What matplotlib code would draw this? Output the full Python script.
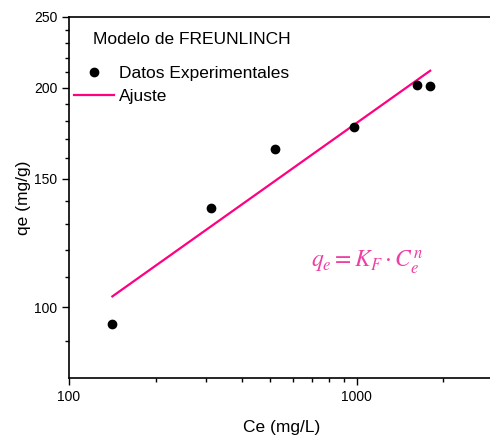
import numpy as np
import matplotlib.pyplot as plt
from matplotlib.ticker import FixedLocator, NullFormatter, FixedFormatter

plt.rcParams['font.family'] = ['Liberation Sans', 'DejaVu Sans']
plt.rcParams['mathtext.fontset'] = 'stix'

ce = [141, 312, 520, 976, 1620, 1798]
qe = [94.9, 136.6, 164.6, 176.8, 201.6, 201.2]

# Freundlich fit line endpoints
fit_ce = [141.5, 1800]
fit_qe = [103.5, 211.0]

x_major = [100, 1000]
x_minor = [200, 300, 400, 500, 600, 700, 800, 900, 2000]
y_major = [100, 150, 200, 250]
y_minor = [90, 110, 120, 130, 140, 160, 170, 180, 190, 210, 220, 230, 240]

fig = plt.figure(figsize=(4.9, 4.38), dpi=100)
ax = fig.add_axes([69 / 490, 1 - 378 / 438, 425 / 490, 361 / 438])

ax.plot(ce, qe, 'o', color='black', markersize=6, label='Datos Experimentales', zorder=3)
ax.plot(fit_ce, fit_qe, '-', color='#ff0080', linewidth=1.6, label='Ajuste')

ax.set_xscale('log')
ax.set_yscale('log')
ax.set_xlim(100, 3000)
ax.set_ylim(80, 250)

ax.xaxis.set_major_locator(FixedLocator(x_major))
ax.xaxis.set_major_formatter(FixedFormatter([str(v) for v in x_major]))
ax.xaxis.set_minor_locator(FixedLocator(x_minor))
ax.xaxis.set_minor_formatter(NullFormatter())
ax.yaxis.set_major_locator(FixedLocator(y_major))
ax.yaxis.set_major_formatter(FixedFormatter([str(v) for v in y_major]))
ax.yaxis.set_minor_locator(FixedLocator(y_minor))
ax.yaxis.set_minor_formatter(NullFormatter())

ax.tick_params(which='major', length=5, width=1, labelsize=10, direction='out')
ax.tick_params(which='minor', length=3, width=1, direction='out')
ax.spines['right'].set_visible(False)
for s in ['left', 'bottom', 'top']:
    ax.spines[s].set_linewidth(1.2)

ax.set_xlabel('Ce (mg/L)', fontsize=12.5, labelpad=12)
ax.set_ylabel('qe (mg/g)', fontsize=12.5, labelpad=2)

fig.text(93 / 490, 1 - 40 / 438, 'Modelo de FREUNLINCH', fontsize=12.5, va='center', ha='left')
ax.legend(loc='upper left', bbox_to_anchor=(74 / 490, 1 - 66 / 438), bbox_transform=fig.transFigure,
          frameon=False, fontsize=12.5, handlelength=2.3, handletextpad=0.3,
          labelspacing=0.45, borderpad=0, borderaxespad=0)

fig.text(367 / 490, 1 - 262 / 438, r'$q_e = K_F \cdot C_e^n$', fontsize=17,
         color='#ee3fa3', ha='center', va='center')

fig.savefig('out.png', dpi=100)
